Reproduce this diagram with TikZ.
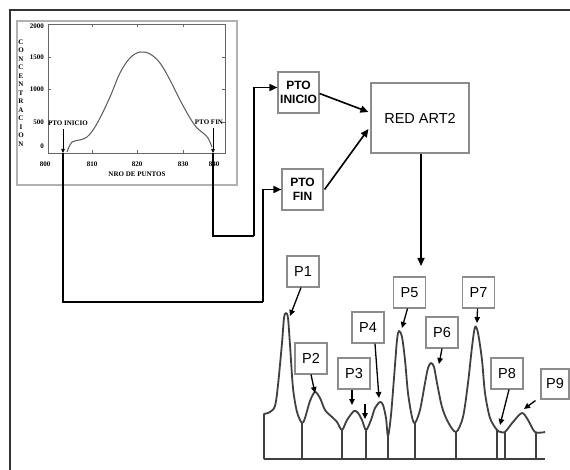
\documentclass[tikz,border=0pt]{standalone}
\usepackage{fontspec}
\setmainfont{Liberation Sans}
\newfontfamily\tnr{Liberation Serif}
\usetikzlibrary{arrows.meta,calc}
\begin{document}
\begin{tikzpicture}[x=1pt,y=-1pt,
 conn/.style={line width=1.6pt, black, -{Triangle[length=8pt,width=7pt]}},
 wire/.style={line width=1.6pt, black},
 gbox/.style={draw=black!45, line width=1.1pt, inner sep=0pt, fill=white, align=center},
 pbox/.style={gbox, minimum width=32pt, minimum height=31pt, font=\fontsize{14.5}{16}\selectfont},
 ptobox/.style={gbox, minimum width=41pt, minimum height=41pt, font=\bfseries\fontsize{12}{14}\selectfont},
 parr/.style={line width=1.3pt, black, -{Triangle[length=6pt,width=5.5pt]}},
 carr/.style={line width=0.7pt, black, -{Triangle[length=4pt,width=3.5pt]}},
 spec/.style={line width=1.8pt, black!75, line join=round},
 ctext/.style={font=\tnr\bfseries\fontsize{7}{8.5}\selectfont, inner sep=0pt, text=black}]
\useasboundingbox (0,0) rectangle (570,470);
\fill[white] (0,0) rectangle (570,470);
% frame
\draw[line width=1.4pt, black!80] (10,470) -- (10,10) -- (570,10);
% chart
\draw[black!30, line width=1.5pt] (17,21) rectangle (237,185);
\draw[black!60, line width=0.9pt] (48,24) rectangle (225,153);
\foreach \x in {92,137,183} {\draw[black!60, line width=0.6pt] (\x,24) -- (\x,27); \draw[black!60, line width=0.6pt] (\x,153) -- (\x,150);}
\foreach \y in {57,89,122} {\draw[black!60, line width=0.6pt] (48,\y) -- (51,\y); \draw[black!60, line width=0.6pt] (225,\y) -- (222,\y);}
\draw[black!65, line width=1pt] plot[smooth, tension=0.6] coordinates {(67,152) (72,142) (80,140) (87,137) (93,130) (100,118) (110,97) (120,73) (130,58) (140,52) (150,54) (160,63) (170,80) (180,100) (190,118) (197,128) (203,133) (208,138) (212,147)};
\node[ctext, anchor=east] at (44,26) {2000};
\node[ctext, anchor=east] at (44,57) {1500};
\node[ctext, anchor=east] at (44,89) {1000};
\node[ctext, anchor=east] at (44,122) {500};
\node[ctext, anchor=east] at (44,146) {0};
\node[ctext] at (45,164) {800};
\node[ctext] at (92,164) {810};
\node[ctext] at (137,164) {820};
\node[ctext] at (183,164) {830};
\node[ctext] at (214,164) {840};
\node[ctext] at (137,174) {NRO DE PUNTOS};
\node[ctext, align=center] at (21,93) {C\\O\\N\\C\\E\\N\\T\\R\\A\\C\\I\\O\\N};
\node[ctext] (lini) at (68,123) {PTO INICIO};
\node[ctext] (lfin) at (209,122) {PTO FIN};
\coordinate (ini0) at (63,153);
\coordinate (fin0) at (213,153);
\draw[carr] (63,129) -- (ini0);
\draw[carr] (213,128) -- (fin0);
% boxes
\node[ptobox] (pinicio) at (298.5,92.5) {PTO\\INICIO};
\node[ptobox] (pfin) at (302.5,189.5) {PTO\\FIN};
\node[gbox, minimum width=98pt, minimum height=70pt, font=\fontsize{14.5}{16}\selectfont] (red) at (420,118) {RED ART2};
% wires
\coordinate (c1) at (254,236);
\coordinate (c2) at (263,302);
\draw[wire] (fin0) |- (c1);
\draw[conn] (c1) |- ($(pinicio.west)+(0,-5)$);
\draw[wire] (ini0) |- (c2);
\draw[conn] (c2) |- (pfin.west);
\draw[conn] ($(pinicio.east)+(0,1)$) -- ($(red.west)+(-2,-6)$);
\draw[conn] ($(pfin.east)+(1,0)$) -- ($(red.west)+(-2,11)$);
\coordinate (spin) at (421,266);
\draw[conn] (red.south -| spin) -- (spin);
% spectrum
\draw[spec] (264,459) -- (264,414) -- plot[smooth, tension=0.5] coordinates {(264,414) (270,412) (275,406) (278,385) (282,343) (284,318) (286,313) (288,318) (290,345) (293,388) (297,412) (302,423)
(305,418) (310,401) (315,392) (320,398) (325,410) (332,417) (337,422) (342,430)
(347,420) (354,411) (358,413) (362,420) (366,430)
(371,420) (375,408) (380,402) (383,405) (386,418) (388,436) (391,415) (394,378) (397,340) (399,331) (402,337) (405,360) (408,393) (412,417) (415,423)
(420,410) (425,383) (428,368) (431,363) (434,367) (437,383) (442,407) (448,422) (456,432)
(463,417) (468,383) (472,347) (475,327) (478,333) (482,360) (485,393) (490,418) (497,430)
(501,432) (505,432) (513,422) (522,413) (528,420) (535,432) (545,432)};
\draw[spec] (264,459) -- (545,459);
\foreach \x/\y in {302/423, 342/430, 366/430, 388/436, 415/423, 456/432, 497/430, 505/432, 536/432}
  \draw[spec] (\x,\y) -- (\x,459);
% peak labels
\node[pbox] (P1) at (303,271.5) {P1};
\node[pbox] (P2) at (311,358.5) {P2};
\node[pbox] (P3) at (354,373.5) {P3};
\node[pbox] (P4) at (368,327.5) {P4};
\node[pbox] (P5) at (409.5,292.5) {P5};
\node[pbox] (P6) at (442,332.5) {P6};
\node[pbox] (P7) at (478.5,292.5) {P7};
\node[pbox] (P8) at (507,373.5) {P8};
\node[pbox, minimum width=28pt, minimum height=30pt] (P9) at (555,384) {P9};
\coordinate (k1) at (290,316);
\coordinate (k2) at (315,393);
\coordinate (k3) at (352,405);
\coordinate (k4) at (379,398);
\coordinate (k5) at (402,328);
\coordinate (k6) at (439,364);
\coordinate (k7) at (477,323);
\coordinate (k8) at (500,425);
\coordinate (k9) at (524,409);
\coordinate (v0) at (365,404);
\coordinate (v1) at (365,419);
\draw[parr] ($(P1.south)+(-2,0)$) -- (k1);
\draw[parr] (P2.south) -- (k2);
\draw[parr] ($(P3.south)+(-2,0)$) -- (k3);
\draw[parr] ($(P4.south)+(7,0)$) -- (k4);
\draw[parr] ($(P5.south)+(-2,0)$) -- (k5);
\draw[parr] (P6.south) -- (k6);
\draw[parr] ($(P7.south)+(-1,0)$) -- (k7);
\draw[parr] ($(P8.south)+(2,0)$) -- (k8);
\draw[parr] ($(P9.south west)+(-5,1)$) -- (k9);
\draw[parr] (v0) -- (v1);
\end{tikzpicture}
\end{document}
